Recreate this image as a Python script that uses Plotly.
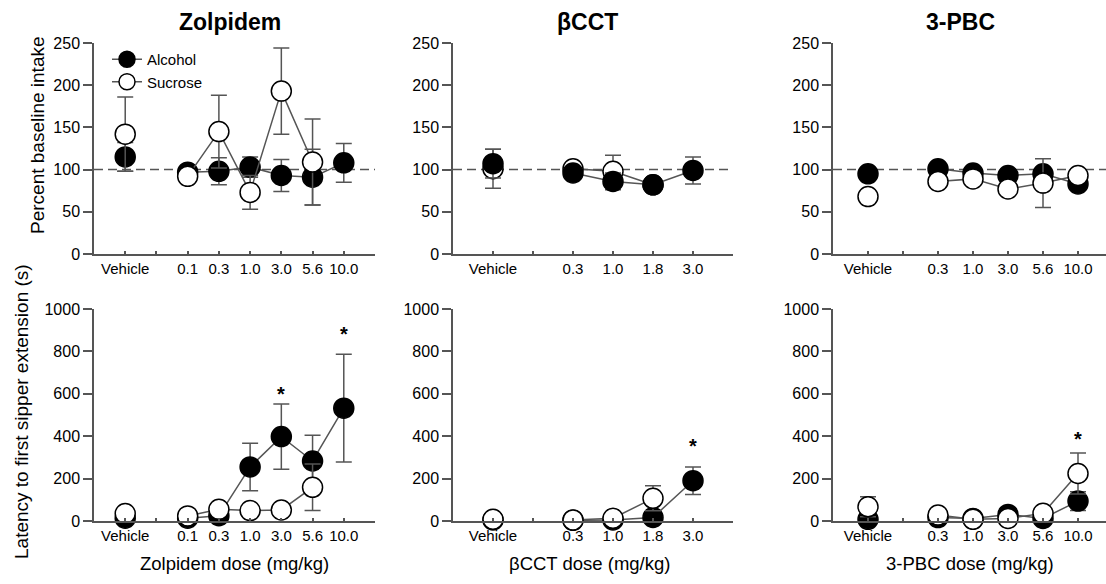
import plotly.graph_objects as go

FONT = "Liberation Sans, Arial, Helvetica, sans-serif"
GREY = "#555555"

# ---------------- data ----------------
zol_doses = ["0.1", "0.3", "1.0", "3.0", "5.6", "10.0"]
bcct_doses = ["0.3", "1.0", "1.8", "3.0"]
pbc_doses = ["0.3", "1.0", "3.0", "5.6", "10.0"]

# Percent baseline intake  [Vehicle, doses...]
zol_int_alc = [115, 97, 98, 103, 93, 91, 108]
zol_int_alc_err = [17, 4, 16, 12, 19, 33, 23]
zol_int_suc = [142, 92, 145, 73, 193, 109, None]
zol_int_suc_err = [44, 4, 43, 20, 51, 51, 0]

bcct_int_alc = [107, 96, 86, 82, 99]
bcct_int_alc_err = [17, 4, 10, 4, 16]
bcct_int_suc = [101, 101, 98, 82, None]
bcct_int_suc_err = [23, 4, 19, 4, 0]

pbc_int_alc = [95, 101, 96, 93, 95, 83]
pbc_int_alc_err = [4, 4, 4, 4, 4, 4]
pbc_int_suc = [68, 86, 89, 77, 84, 93]
pbc_int_suc_err = [4, 4, 4, 4, 29, 4]

# Latency to first sipper extension (s)
zol_lat_alc = [13, 13, 25, 255, 398, 283, 532]
zol_lat_alc_err = [5, 5, 8, 112, 154, 122, 254]
zol_lat_suc = [35, 24, 55, 49, 52, 159, None]
zol_lat_suc_err = [10, 5, 10, 8, 10, 110, 0]

bcct_lat_alc = [5, 3, 5, 17, 190]
bcct_lat_alc_err = [2, 2, 2, 5, 65]
bcct_lat_suc = [8, 5, 13, 107, None]
bcct_lat_suc_err = [3, 2, 4, 59, 0]

pbc_lat_alc = [8, 16, 12, 31, 12, 94]
pbc_lat_alc_err = [4, 5, 4, 8, 4, 44]
pbc_lat_suc = [67, 28, 8, 12, 36, 224]
pbc_lat_suc_err = [47, 6, 4, 4, 8, 97]

# significance markers: (dose label, y value)
zol_stars = [("3.0", 600), ("10.0", 880)]
bcct_stars = [("3.0", 355)]
pbc_stars = [("10.0", 385)]

titles = ["Zolpidem", "βCCT", "3-PBC"]
xtitles = ["Zolpidem dose (mg/kg)", "βCCT dose (mg/kg)", "3-PBC dose (mg/kg)"]

# ---------------- layout geometry ----------------
W, H = 1106, 584
xdom_px = [(94, 375), (453, 733), (833, 1106)]
xranges = [[-1, 8], [-1, 6], [-1, 6.8]]
ydom_top = [1 - 254 / H, 1 - 43 / H]
ydom_bot = [1 - 521 / H, 1 - 309 / H]


def series(vals, errs):
    x = [0, 1] + list(range(2, 2 + len(vals) - 1))
    y = [vals[0], None] + list(vals[1:])
    e = [errs[0], 0] + list(errs[1:])
    return x, y, e


fig = go.Figure()

panels = [
    # (axis index, doses, alc, alc_err, suc, suc_err, sucrose_first)
    (1, zol_doses, zol_int_alc, zol_int_alc_err, zol_int_suc, zol_int_suc_err, False),
    (2, bcct_doses, bcct_int_alc, bcct_int_alc_err, bcct_int_suc, bcct_int_suc_err, True),
    (3, pbc_doses, pbc_int_alc, pbc_int_alc_err, pbc_int_suc, pbc_int_suc_err, False),
    (4, zol_doses, zol_lat_alc, zol_lat_alc_err, zol_lat_suc, zol_lat_suc_err, False),
    (5, bcct_doses, bcct_lat_alc, bcct_lat_alc_err, bcct_lat_suc, bcct_lat_suc_err, False),
    (6, pbc_doses, pbc_lat_alc, pbc_lat_alc_err, pbc_lat_suc, pbc_lat_suc_err, False),
]

for idx, doses, alc, alc_e, suc, suc_e, suc_first in panels:
    suffix = "" if idx == 1 else str(idx)
    traces = []
    for name, vals, errs, fill in [("Alcohol", alc, alc_e, "black"), ("Sucrose", suc, suc_e, "white")]:
        x, y, e = series(vals, errs)
        traces.append(go.Scatter(
            x=x, y=y, name=name, mode="lines+markers",
            xaxis="x" + suffix, yaxis="y" + suffix,
            line=dict(color=GREY, width=1.5),
            marker=dict(size=20, color=fill, line=dict(color="black", width=1.5)),
            error_y=dict(type="data", array=e, visible=True, color=GREY, thickness=1.5, width=8),
            cliponaxis=False, connectgaps=False,
            showlegend=(idx == 1), legendgroup=name,
        ))
    if suc_first:
        traces = traces[::-1]
    for t in traces:
        fig.add_trace(t)

layout = dict(
    width=W, height=H, margin=dict(l=0, r=0, t=0, b=0, autoexpand=False),
    paper_bgcolor="white", plot_bgcolor="white",
    font=dict(family=FONT, size=15, color="black"),
    showlegend=True,
    legend=dict(x=107 / W, y=1 - 43 / H, xanchor="left", yanchor="top",
                font=dict(size=15), bgcolor="rgba(0,0,0,0)",
                traceorder="grouped", tracegroupgap=0),
)

all_doses = [zol_doses, bcct_doses, pbc_doses]
for row in range(2):
    for col in range(3):
        idx = row * 3 + col + 1
        suffix = "" if idx == 1 else str(idx)
        doses = all_doses[col]
        px0, px1 = xdom_px[col]
        layout["xaxis" + suffix] = dict(
            domain=[px0 / W, px1 / W], range=xranges[col], anchor="y" + suffix,
            tickvals=list(range(0, 2 + len(doses))), ticktext=["Vehicle", ""] + doses,
            showline=True, linecolor=GREY, linewidth=1.5, ticks="inside", ticklen=3,
            tickcolor=GREY, tickwidth=1.5, showgrid=False, zeroline=False,
            tickfont=dict(size=15), automargin=False,
        )
        if row == 0:
            yr, tv = [0, 250], [0, 50, 100, 150, 200, 250]
            ydom = ydom_top
        else:
            yr, tv = [0, 1000], [0, 200, 400, 600, 800, 1000]
            ydom = ydom_bot
        layout["yaxis" + suffix] = dict(
            domain=ydom, range=yr, anchor="x" + suffix, tickvals=tv,
            showline=True, linecolor=GREY, linewidth=1.5, ticks="outside", ticklen=9,
            tickcolor=GREY, tickwidth=1.5, showgrid=False, zeroline=False,
            tickfont=dict(size=16), automargin=False,
        )

fig.update_layout(**layout)

# baseline dashed lines in top row
for idx in (1, 2, 3):
    suffix = "" if idx == 1 else str(idx)
    fig.add_shape(type="line", xref="x" + suffix + " domain", yref="y" + suffix,
                  x0=0, x1=1, y0=100, y1=100, layer="below",
                  line=dict(color=GREY, width=1.5, dash="9px,5px"))

# significance asterisks
for idx, doses, stars in [(4, zol_doses, zol_stars), (5, bcct_doses, bcct_stars), (6, pbc_doses, pbc_stars)]:
    for lab, yv in stars:
        fig.add_annotation(x=doses.index(lab) + 2, y=yv, xref="x" + str(idx), yref="y" + str(idx),
                           text="<b>*</b>", showarrow=False, xanchor="center", yanchor="middle",
                           font=dict(size=20, color="black"))

# panel titles
title_x = [230, 587, 960]
for t, tx in zip(titles, title_x):
    fig.add_annotation(x=tx / W, y=1 - 22 / H, xref="paper", yref="paper", text="<b>" + t + "</b>",
                       showarrow=False, xanchor="center", yanchor="middle",
                       font=dict(size=23, color="black"))

# x titles
xt_x = [234, 589, 970]
for t, tx in zip(xtitles, xt_x):
    fig.add_annotation(x=tx / W, y=1 - 563 / H, xref="paper", yref="paper", text=t,
                       showarrow=False, xanchor="center", yanchor="middle",
                       font=dict(size=18.5, color="black"))

# y titles
fig.add_annotation(x=37 / W, y=1 - 135 / H, xref="paper", yref="paper", text="Percent baseline intake",
                   textangle=-90, showarrow=False, xanchor="center", yanchor="middle",
                   font=dict(size=19, color="black"))
fig.add_annotation(x=21 / W, y=1 - 412 / H, xref="paper", yref="paper",
                   text="Latency to first sipper extension (s)",
                   textangle=-90, showarrow=False, xanchor="center", yanchor="middle",
                   font=dict(size=19, color="black"))

fig.write_html("out.html")
